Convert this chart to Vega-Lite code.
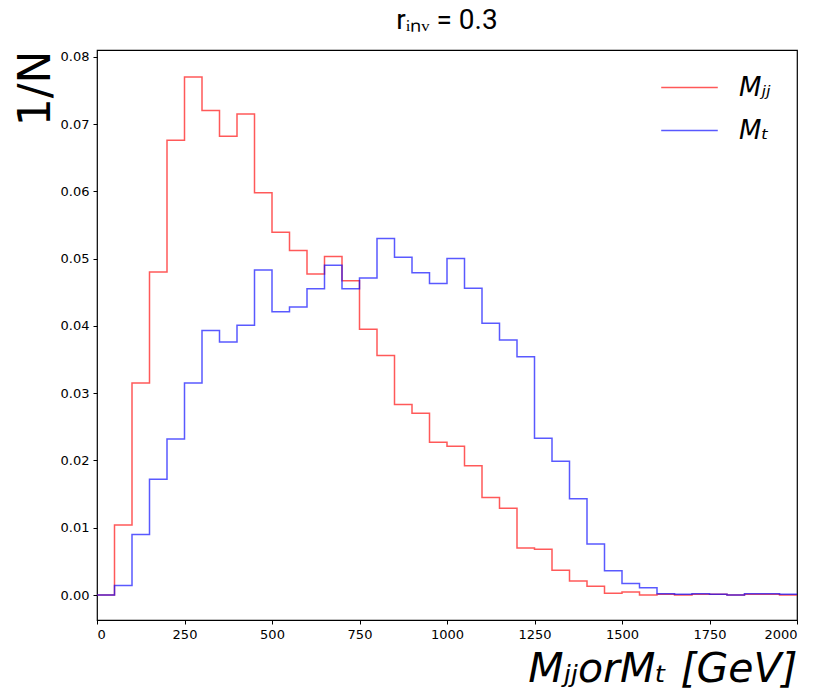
{
  "$schema": "https://vega.github.io/schema/vega-lite/v6.json",
  "width": 700,
  "height": 570,
  "autosize": {"type": "none"},
  "padding": {"left": 97, "top": 50, "right": 28, "bottom": 72},
  "background": "white",
  "title": {"text": "rᵢₙᵥ = 0.3", "font": "Roboto", "fontSize": 28, "fontWeight": "normal", "color": "black", "offset": 15, "anchor": "middle"},
  "config": {
    "view": {"stroke": "black", "strokeWidth": 1.2},
    "axis": {"grid": false, "domain": false, "tickColor": "black", "tickSize": 4, "labelColor": "black", "labelFont": "DejaVu Sans", "labelFontSize": 13, "titleColor": "black", "titleFontWeight": "normal"}
  },
  "datasets": {
    "hist": [
      {"series": "Mjj", "x": 0, "y": 0.0},
      {"series": "Mjj", "x": 50, "y": 0.0104},
      {"series": "Mjj", "x": 100, "y": 0.0315},
      {"series": "Mjj", "x": 150, "y": 0.0480},
      {"series": "Mjj", "x": 200, "y": 0.0676},
      {"series": "Mjj", "x": 250, "y": 0.0770},
      {"series": "Mjj", "x": 300, "y": 0.0720},
      {"series": "Mjj", "x": 350, "y": 0.0682},
      {"series": "Mjj", "x": 400, "y": 0.0715},
      {"series": "Mjj", "x": 450, "y": 0.0598},
      {"series": "Mjj", "x": 500, "y": 0.0539},
      {"series": "Mjj", "x": 550, "y": 0.0512},
      {"series": "Mjj", "x": 600, "y": 0.0477},
      {"series": "Mjj", "x": 650, "y": 0.0503},
      {"series": "Mjj", "x": 700, "y": 0.0467},
      {"series": "Mjj", "x": 750, "y": 0.0395},
      {"series": "Mjj", "x": 800, "y": 0.0356},
      {"series": "Mjj", "x": 850, "y": 0.0283},
      {"series": "Mjj", "x": 900, "y": 0.0270},
      {"series": "Mjj", "x": 950, "y": 0.0227},
      {"series": "Mjj", "x": 1000, "y": 0.0221},
      {"series": "Mjj", "x": 1050, "y": 0.0192},
      {"series": "Mjj", "x": 1100, "y": 0.0145},
      {"series": "Mjj", "x": 1150, "y": 0.0129},
      {"series": "Mjj", "x": 1200, "y": 0.0070},
      {"series": "Mjj", "x": 1250, "y": 0.0068},
      {"series": "Mjj", "x": 1300, "y": 0.0037},
      {"series": "Mjj", "x": 1350, "y": 0.0021},
      {"series": "Mjj", "x": 1400, "y": 0.0013},
      {"series": "Mjj", "x": 1450, "y": 0.00025},
      {"series": "Mjj", "x": 1500, "y": 0.00045},
      {"series": "Mjj", "x": 1550, "y": 0.0},
      {"series": "Mjj", "x": 1600, "y": 0.0001},
      {"series": "Mjj", "x": 1650, "y": 0.0},
      {"series": "Mjj", "x": 1700, "y": 0.0001},
      {"series": "Mjj", "x": 1750, "y": 0.0001},
      {"series": "Mjj", "x": 1800, "y": 0.0},
      {"series": "Mjj", "x": 1850, "y": 0.0001},
      {"series": "Mjj", "x": 1900, "y": 0.0001},
      {"series": "Mjj", "x": 1950, "y": 0.0},
      {"series": "Mjj", "x": 2000, "y": 0.0},
      {"series": "MT", "x": 0, "y": 0.0},
      {"series": "MT", "x": 50, "y": 0.0014},
      {"series": "MT", "x": 100, "y": 0.0090},
      {"series": "MT", "x": 150, "y": 0.0172},
      {"series": "MT", "x": 200, "y": 0.0232},
      {"series": "MT", "x": 250, "y": 0.0315},
      {"series": "MT", "x": 300, "y": 0.0393},
      {"series": "MT", "x": 350, "y": 0.0376},
      {"series": "MT", "x": 400, "y": 0.0401},
      {"series": "MT", "x": 450, "y": 0.0483},
      {"series": "MT", "x": 500, "y": 0.0421},
      {"series": "MT", "x": 550, "y": 0.0428},
      {"series": "MT", "x": 600, "y": 0.0455},
      {"series": "MT", "x": 650, "y": 0.0490},
      {"series": "MT", "x": 700, "y": 0.0455},
      {"series": "MT", "x": 750, "y": 0.0471},
      {"series": "MT", "x": 800, "y": 0.0530},
      {"series": "MT", "x": 850, "y": 0.0502},
      {"series": "MT", "x": 900, "y": 0.0479},
      {"series": "MT", "x": 950, "y": 0.0463},
      {"series": "MT", "x": 1000, "y": 0.0500},
      {"series": "MT", "x": 1050, "y": 0.0456},
      {"series": "MT", "x": 1100, "y": 0.0404},
      {"series": "MT", "x": 1150, "y": 0.0379},
      {"series": "MT", "x": 1200, "y": 0.0354},
      {"series": "MT", "x": 1250, "y": 0.0233},
      {"series": "MT", "x": 1300, "y": 0.0199},
      {"series": "MT", "x": 1350, "y": 0.0143},
      {"series": "MT", "x": 1400, "y": 0.0076},
      {"series": "MT", "x": 1450, "y": 0.0036},
      {"series": "MT", "x": 1500, "y": 0.0017},
      {"series": "MT", "x": 1550, "y": 0.0011},
      {"series": "MT", "x": 1600, "y": 0.0002},
      {"series": "MT", "x": 1650, "y": 0.0001},
      {"series": "MT", "x": 1700, "y": 0.0002},
      {"series": "MT", "x": 1750, "y": 0.0001},
      {"series": "MT", "x": 1800, "y": 0.0},
      {"series": "MT", "x": 1850, "y": 0.0002},
      {"series": "MT", "x": 1900, "y": 0.0002},
      {"series": "MT", "x": 1950, "y": 0.0001},
      {"series": "MT", "x": 2000, "y": 0.0001}
    ]
  },
  "data": {"name": "hist"},
  "mark": {"type": "line", "interpolate": "step-after", "strokeWidth": 1.5, "opacity": 0.65},
  "encoding": {
    "x": {
      "field": "x", "type": "quantitative",
      "scale": {"domain": [0, 2000], "nice": false, "zero": false},
      "axis": {"values": [0, 250, 500, 750, 1000, 1250, 1500, 1750, 2000], "format": "d", "labelPadding": 4,
        "title": "MⱼⱼorMₜ [GeV]", "titleFont": "DejaVu Sans", "titleFontSize": 41, "titleFontStyle": "italic", "titleAnchor": "end", "titlePadding": 8}
    },
    "y": {
      "field": "y", "type": "quantitative",
      "scale": {"domain": [-0.00371, 0.081], "nice": false, "zero": false},
      "axis": {"values": [0, 0.01, 0.02, 0.03, 0.04, 0.05, 0.06, 0.07, 0.08], "format": ".2f", "labelPadding": 4,
        "title": "1/N", "titleFont": "DejaVu Sans", "titleFontSize": 44, "titleAnchor": "end", "titlePadding": 2}
    },
    "color": {
      "field": "series", "type": "nominal",
      "scale": {"domain": ["Mjj", "MT"], "range": ["red", "blue"]},
      "legend": {
        "title": null, "orient": "none", "legendX": 563, "legendY": 8, "padding": 0,
        "symbolType": "stroke", "symbolSize": 3200, "symbolStrokeWidth": 1.5, "symbolOpacity": 0.65,
        "labelFont": "DejaVu Sans", "labelFontSize": 26, "labelFontStyle": "italic", "labelColor": "black",
        "labelOffset": 20, "rowPadding": -16,
        "labelExpr": "datum.value == 'Mjj' ? 'Mⱼⱼ' : 'Mₜ'"
      }
    }
  }
}
